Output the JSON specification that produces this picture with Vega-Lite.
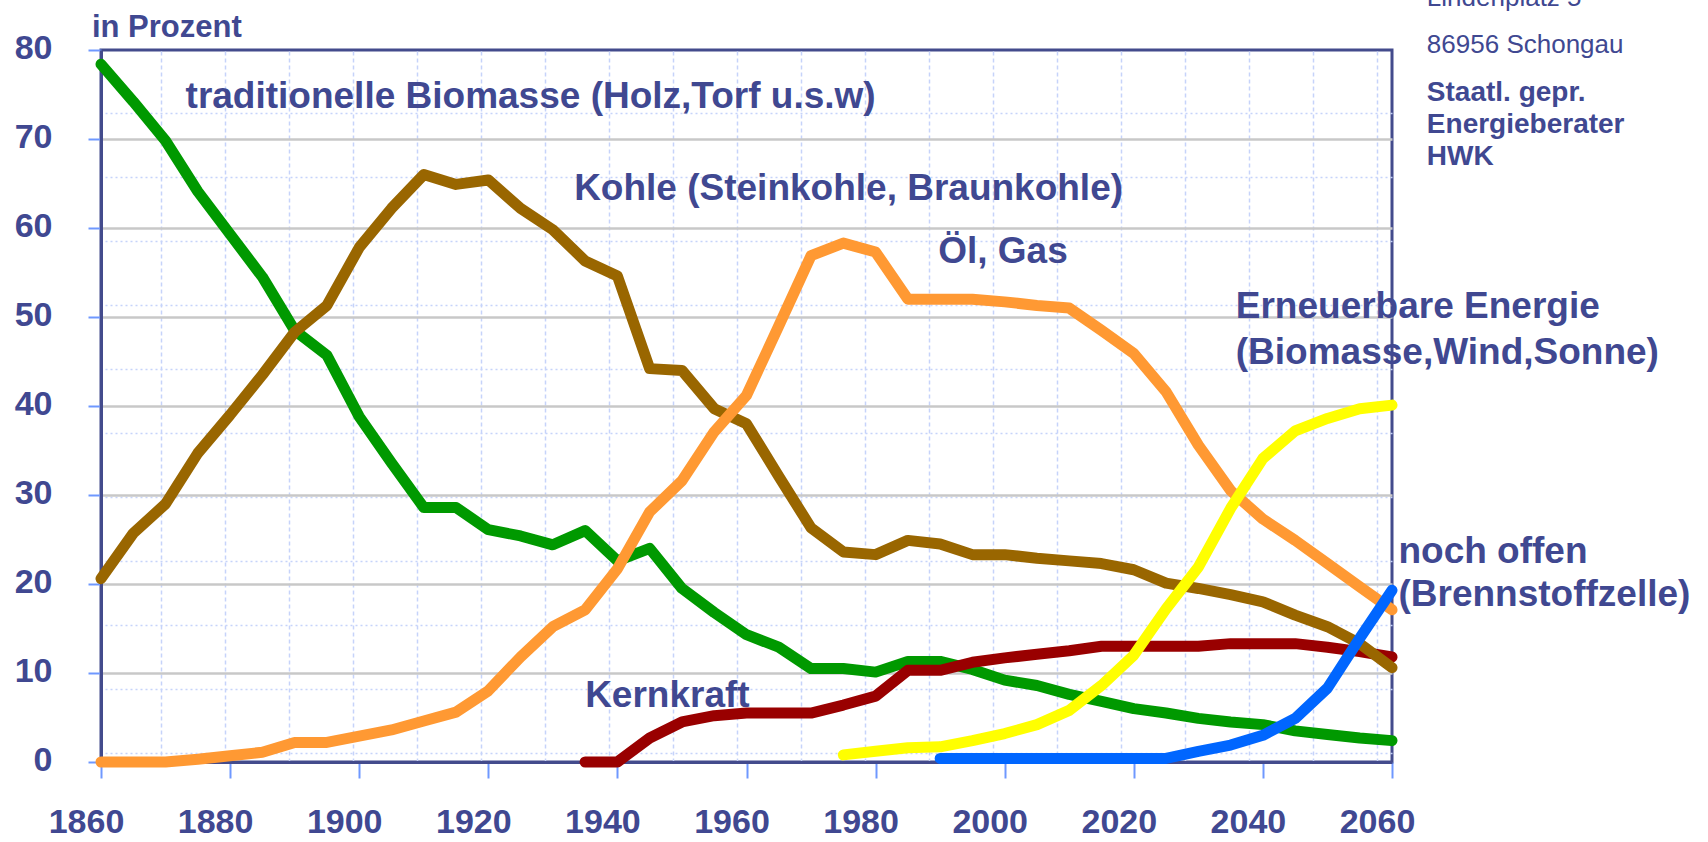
{
  "$schema": "https://vega.github.io/schema/vega-lite/v6.json",
  "width": 1291,
  "height": 712,
  "autosize": {"type": "none"},
  "padding": {"left": 101, "top": 50, "right": 316, "bottom": 80},
  "background": "white",
  "config": {"view": {"stroke": "#434b8c", "strokeWidth": 3}, "font": "Liberation Sans"},
  "datasets": {
    "series": [
      {"s":"Biomasse","year":1860,"v":78.4},{"s":"Biomasse","year":1865,"v":74.2},{"s":"Biomasse","year":1870,"v":69.8},{"s":"Biomasse","year":1875,"v":64.1},{"s":"Biomasse","year":1880,"v":59.3},{"s":"Biomasse","year":1885,"v":54.5},{"s":"Biomasse","year":1890,"v":48.5},{"s":"Biomasse","year":1895,"v":45.7},{"s":"Biomasse","year":1900,"v":38.8},{"s":"Biomasse","year":1905,"v":33.6},{"s":"Biomasse","year":1910,"v":28.6},{"s":"Biomasse","year":1915,"v":28.6},{"s":"Biomasse","year":1920,"v":26.1},{"s":"Biomasse","year":1925,"v":25.4},{"s":"Biomasse","year":1930,"v":24.4},{"s":"Biomasse","year":1935,"v":26.0},{"s":"Biomasse","year":1940,"v":22.6},{"s":"Biomasse","year":1945,"v":24.0},{"s":"Biomasse","year":1950,"v":19.5},{"s":"Biomasse","year":1955,"v":16.8},{"s":"Biomasse","year":1960,"v":14.3},{"s":"Biomasse","year":1965,"v":12.9},{"s":"Biomasse","year":1970,"v":10.5},{"s":"Biomasse","year":1975,"v":10.5},{"s":"Biomasse","year":1980,"v":10.1},{"s":"Biomasse","year":1985,"v":11.3},{"s":"Biomasse","year":1990,"v":11.3},{"s":"Biomasse","year":1995,"v":10.4},{"s":"Biomasse","year":2000,"v":9.2},{"s":"Biomasse","year":2005,"v":8.6},{"s":"Biomasse","year":2010,"v":7.6},{"s":"Biomasse","year":2015,"v":6.8},{"s":"Biomasse","year":2020,"v":6.0},{"s":"Biomasse","year":2025,"v":5.5},{"s":"Biomasse","year":2030,"v":4.9},{"s":"Biomasse","year":2035,"v":4.5},{"s":"Biomasse","year":2040,"v":4.2},{"s":"Biomasse","year":2045,"v":3.5},{"s":"Biomasse","year":2050,"v":3.1},{"s":"Biomasse","year":2055,"v":2.7},{"s":"Biomasse","year":2060,"v":2.4},
      {"s":"Kernkraft","year":1935,"v":0},{"s":"Kernkraft","year":1940,"v":0},{"s":"Kernkraft","year":1945,"v":2.7},{"s":"Kernkraft","year":1950,"v":4.5},{"s":"Kernkraft","year":1955,"v":5.2},{"s":"Kernkraft","year":1960,"v":5.5},{"s":"Kernkraft","year":1965,"v":5.5},{"s":"Kernkraft","year":1970,"v":5.5},{"s":"Kernkraft","year":1975,"v":6.4},{"s":"Kernkraft","year":1980,"v":7.4},{"s":"Kernkraft","year":1985,"v":10.3},{"s":"Kernkraft","year":1990,"v":10.3},{"s":"Kernkraft","year":1995,"v":11.2},{"s":"Kernkraft","year":2000,"v":11.7},{"s":"Kernkraft","year":2005,"v":12.1},{"s":"Kernkraft","year":2010,"v":12.5},{"s":"Kernkraft","year":2015,"v":13.0},{"s":"Kernkraft","year":2020,"v":13.0},{"s":"Kernkraft","year":2025,"v":13.0},{"s":"Kernkraft","year":2030,"v":13.0},{"s":"Kernkraft","year":2035,"v":13.3},{"s":"Kernkraft","year":2040,"v":13.3},{"s":"Kernkraft","year":2045,"v":13.3},{"s":"Kernkraft","year":2050,"v":12.9},{"s":"Kernkraft","year":2055,"v":12.4},{"s":"Kernkraft","year":2060,"v":11.8},
      {"s":"Kohle","year":1860,"v":20.6},{"s":"Kohle","year":1865,"v":25.7},{"s":"Kohle","year":1870,"v":29.0},{"s":"Kohle","year":1875,"v":34.7},{"s":"Kohle","year":1880,"v":39.0},{"s":"Kohle","year":1885,"v":43.5},{"s":"Kohle","year":1890,"v":48.3},{"s":"Kohle","year":1895,"v":51.3},{"s":"Kohle","year":1900,"v":57.8},{"s":"Kohle","year":1905,"v":62.2},{"s":"Kohle","year":1910,"v":66.0},{"s":"Kohle","year":1915,"v":64.9},{"s":"Kohle","year":1920,"v":65.4},{"s":"Kohle","year":1925,"v":62.2},{"s":"Kohle","year":1930,"v":59.8},{"s":"Kohle","year":1935,"v":56.3},{"s":"Kohle","year":1940,"v":54.6},{"s":"Kohle","year":1945,"v":44.2},{"s":"Kohle","year":1950,"v":44.0},{"s":"Kohle","year":1955,"v":39.7},{"s":"Kohle","year":1960,"v":38.0},{"s":"Kohle","year":1965,"v":32.1},{"s":"Kohle","year":1970,"v":26.3},{"s":"Kohle","year":1975,"v":23.6},{"s":"Kohle","year":1980,"v":23.3},{"s":"Kohle","year":1985,"v":24.9},{"s":"Kohle","year":1990,"v":24.5},{"s":"Kohle","year":1995,"v":23.3},{"s":"Kohle","year":2000,"v":23.3},{"s":"Kohle","year":2005,"v":22.9},{"s":"Kohle","year":2010,"v":22.6},{"s":"Kohle","year":2015,"v":22.3},{"s":"Kohle","year":2020,"v":21.6},{"s":"Kohle","year":2025,"v":20.1},{"s":"Kohle","year":2030,"v":19.5},{"s":"Kohle","year":2035,"v":18.8},{"s":"Kohle","year":2040,"v":18.0},{"s":"Kohle","year":2045,"v":16.5},{"s":"Kohle","year":2050,"v":15.2},{"s":"Kohle","year":2055,"v":13.3},{"s":"Kohle","year":2060,"v":10.6},
      {"s":"Oel","year":1860,"v":0},{"s":"Oel","year":1865,"v":0},{"s":"Oel","year":1870,"v":0},{"s":"Oel","year":1875,"v":0.3},{"s":"Oel","year":1880,"v":0.7},{"s":"Oel","year":1885,"v":1.1},{"s":"Oel","year":1890,"v":2.2},{"s":"Oel","year":1895,"v":2.2},{"s":"Oel","year":1900,"v":2.9},{"s":"Oel","year":1905,"v":3.6},{"s":"Oel","year":1910,"v":4.6},{"s":"Oel","year":1915,"v":5.6},{"s":"Oel","year":1920,"v":8.0},{"s":"Oel","year":1925,"v":11.8},{"s":"Oel","year":1930,"v":15.2},{"s":"Oel","year":1935,"v":17.1},{"s":"Oel","year":1940,"v":21.7},{"s":"Oel","year":1945,"v":28.1},{"s":"Oel","year":1950,"v":31.6},{"s":"Oel","year":1955,"v":37.1},{"s":"Oel","year":1960,"v":41.2},{"s":"Oel","year":1965,"v":49.0},{"s":"Oel","year":1970,"v":56.9},{"s":"Oel","year":1975,"v":58.3},{"s":"Oel","year":1980,"v":57.3},{"s":"Oel","year":1985,"v":52.0},{"s":"Oel","year":1990,"v":52.0},{"s":"Oel","year":1995,"v":52.0},{"s":"Oel","year":2000,"v":51.7},{"s":"Oel","year":2005,"v":51.3},{"s":"Oel","year":2010,"v":51.0},{"s":"Oel","year":2015,"v":48.5},{"s":"Oel","year":2020,"v":45.9},{"s":"Oel","year":2025,"v":41.6},{"s":"Oel","year":2030,"v":35.6},{"s":"Oel","year":2035,"v":30.5},{"s":"Oel","year":2040,"v":27.3},{"s":"Oel","year":2045,"v":24.9},{"s":"Oel","year":2050,"v":22.3},{"s":"Oel","year":2055,"v":19.7},{"s":"Oel","year":2060,"v":17.1},
      {"s":"Erneuerbar","year":1975,"v":0.8},{"s":"Erneuerbar","year":1980,"v":1.2},{"s":"Erneuerbar","year":1985,"v":1.6},{"s":"Erneuerbar","year":1990,"v":1.7},{"s":"Erneuerbar","year":1995,"v":2.4},{"s":"Erneuerbar","year":2000,"v":3.2},{"s":"Erneuerbar","year":2005,"v":4.2},{"s":"Erneuerbar","year":2010,"v":5.8},{"s":"Erneuerbar","year":2015,"v":8.6},{"s":"Erneuerbar","year":2020,"v":12.0},{"s":"Erneuerbar","year":2025,"v":17.2},{"s":"Erneuerbar","year":2030,"v":21.9},{"s":"Erneuerbar","year":2035,"v":28.5},{"s":"Erneuerbar","year":2040,"v":34.1},{"s":"Erneuerbar","year":2045,"v":37.2},{"s":"Erneuerbar","year":2050,"v":38.6},{"s":"Erneuerbar","year":2055,"v":39.7},{"s":"Erneuerbar","year":2060,"v":40.1},
      {"s":"offen","year":1990,"v":0.4},{"s":"offen","year":1995,"v":0.4},{"s":"offen","year":2000,"v":0.4},{"s":"offen","year":2005,"v":0.4},{"s":"offen","year":2010,"v":0.4},{"s":"offen","year":2015,"v":0.4},{"s":"offen","year":2020,"v":0.4},{"s":"offen","year":2025,"v":0.4},{"s":"offen","year":2030,"v":1.2},{"s":"offen","year":2035,"v":1.9},{"s":"offen","year":2040,"v":3.0},{"s":"offen","year":2045,"v":4.9},{"s":"offen","year":2050,"v":8.3},{"s":"offen","year":2055,"v":13.9},{"s":"offen","year":2060,"v":19.3}
    ],
    "bigLabels": [
      {"t":"traditionelle Biomasse (Holz,Torf u.s.w)","year":1873.1,"v":73.5},
      {"t":"Kohle (Steinkohle, Braunkohle)","year":1933.3,"v":63.1},
      {"t":"Öl, Gas","year":1989.7,"v":56.1},
      {"t":"Erneuerbare Energie","year":2035.8,"v":49.9},
      {"t":"(Biomasse,Wind,Sonne)","year":2035.8,"v":44.7},
      {"t":"noch offen","year":2061.0,"v":22.4},
      {"t":"(Brennstoffzelle)","year":2061.0,"v":17.5},
      {"t":"Kernkraft","year":1935.0,"v":6.2}
    ],
    "title": [{"t":"in Prozent","year":1858.6,"v":81.46}],
    "address": [
      {"t":"Lindenplatz 5","year":2065.4,"v":84.9},
      {"t":"86956 Schongau","year":2065.4,"v":79.7}
    ],
    "addressBold": [
      {"t":"Staatl. gepr.","year":2065.4,"v":74.3},
      {"t":"Energieberater","year":2065.4,"v":70.7},
      {"t":"HWK","year":2065.4,"v":67.1}
    ]
  },
  "layer": [
    {
      "data": {"name": "series"},
      "mark": {"type": "point", "opacity": 0},
      "encoding": {
        "x": {"field": "year", "type": "quantitative", "scale": {"domain": [1860, 2060], "nice": false, "zero": false},
          "axis": {"orient": "top", "values": [1869.30,1879.21,1889.12,1899.04,1908.95,1918.87,1928.78,1938.70,1948.61,1958.53,1968.44,1978.36,1988.27,1998.19,2008.10,2018.02,2027.93,2037.85,2047.76,2057.68],
            "grid": true, "gridColor": "#c6d3fa", "gridDash": [4, 3], "gridWidth": 1.5, "labels": false, "ticks": false, "domain": false, "title": null}},
        "y": {"field": "v", "type": "quantitative", "scale": {"domain": [0, 80], "nice": false, "zero": true},
          "axis": {"orient": "right", "values": [72.96,65.76,58.57,51.38,44.19,37.0,29.81,22.61,15.43,8.24,1.04],
            "grid": true, "gridColor": "#c6d3fa", "gridDash": [2, 3], "gridWidth": 1.5, "labels": false, "ticks": false, "domain": false, "title": null}}
      }
    },
    {
      "data": {"name": "series"},
      "mark": {"type": "line", "strokeWidth": 11, "strokeCap": "round", "strokeJoin": "round"},
      "encoding": {
        "x": {"field": "year", "type": "quantitative", "scale": {"domain": [1860, 2060], "nice": false, "zero": false},
          "axis": {"orient": "bottom", "values": [1860,1880,1900,1920,1940,1960,1980,2000,2020,2040,2060], "format": "d", "grid": false, "title": null,
            "labelFont": "Liberation Sans", "labelFontSize": 34, "labelFontWeight": "bold", "labelColor": "#404891",
            "labelOffset": -15, "labelPadding": 27, "labelFlush": false, "labelOverlap": false, "labelBound": false,
            "tickSize": 16, "tickColor": "#6f98ff", "tickWidth": 2, "domainColor": "#434b8c", "domainWidth": 3}},
        "y": {"field": "v", "type": "quantitative", "scale": {"domain": [0, 80], "nice": false, "zero": true},
          "axis": {"orient": "left", "values": [0,10,20,30,40,50,60,70,80], "format": "d", "title": null,
            "grid": true, "gridColor": {"condition": {"test": "datum.value == 0 || datum.value == 80", "value": "transparent"}, "value": "#c8c8c8"}, "gridWidth": 2.5,
            "labelFont": "Liberation Sans", "labelFontSize": 34, "labelFontWeight": "bold", "labelColor": "#404891",
            "labelPadding": 36, "labelOffset": -2, "labelFlush": false, "labelOverlap": false, "labelBound": false,
            "tickSize": 13, "tickColor": "#6f98ff", "tickWidth": 2, "domainColor": "#434b8c", "domainWidth": 3}},
        "color": {"field": "s", "type": "nominal", "legend": null,
          "scale": {"domain": ["Biomasse","Kernkraft","Kohle","Oel","Erneuerbar","offen"], "range": ["#009900","#990000","#996600","#ff9933","#ffff00","#0066ff"]}}
      }
    },
    {
      "data": {"name": "bigLabels"},
      "mark": {"type": "text", "align": "left", "baseline": "alphabetic", "font": "Liberation Sans", "fontSize": 37, "fontWeight": "bold", "color": "#404891"},
      "encoding": {
        "x": {"field": "year", "type": "quantitative", "scale": {"domain": [1860, 2060], "nice": false, "zero": false}, "axis": null},
        "y": {"field": "v", "type": "quantitative", "scale": {"domain": [0, 80], "nice": false, "zero": true}, "axis": null},
        "text": {"field": "t"}
      }
    },
    {
      "data": {"name": "title"},
      "mark": {"type": "text", "align": "left", "baseline": "alphabetic", "font": "Liberation Sans", "fontSize": 31, "fontWeight": "bold", "color": "#404891"},
      "encoding": {
        "x": {"field": "year", "type": "quantitative", "scale": {"domain": [1860, 2060], "nice": false, "zero": false}, "axis": null},
        "y": {"field": "v", "type": "quantitative", "scale": {"domain": [0, 80], "nice": false, "zero": true}, "axis": null},
        "text": {"field": "t"}
      }
    },
    {
      "data": {"name": "address"},
      "mark": {"type": "text", "align": "left", "baseline": "alphabetic", "font": "Liberation Sans", "fontSize": 26, "fontWeight": "normal", "color": "#404891"},
      "encoding": {
        "x": {"field": "year", "type": "quantitative", "scale": {"domain": [1860, 2060], "nice": false, "zero": false}, "axis": null},
        "y": {"field": "v", "type": "quantitative", "scale": {"domain": [0, 80], "nice": false, "zero": true}, "axis": null},
        "text": {"field": "t"}
      }
    },
    {
      "data": {"name": "addressBold"},
      "mark": {"type": "text", "align": "left", "baseline": "alphabetic", "font": "Liberation Sans", "fontSize": 28, "fontWeight": "bold", "color": "#404891"},
      "encoding": {
        "x": {"field": "year", "type": "quantitative", "scale": {"domain": [1860, 2060], "nice": false, "zero": false}, "axis": null},
        "y": {"field": "v", "type": "quantitative", "scale": {"domain": [0, 80], "nice": false, "zero": true}, "axis": null},
        "text": {"field": "t"}
      }
    },
    {
      "mark": {"type": "rule", "color": "#87a2f5", "strokeWidth": 2.5},
      "encoding": {
        "x": {"datum": 2107.3, "type": "quantitative", "scale": {"domain": [1860, 2060], "nice": false, "zero": false}, "axis": null},
        "y": {"datum": 85.6, "type": "quantitative", "scale": {"domain": [0, 80], "nice": false, "zero": true}, "axis": null},
        "y2": {"datum": 74.7}
      }
    }
  ],
  "resolve": {"axis": {"x": "independent", "y": "independent"}}
}
